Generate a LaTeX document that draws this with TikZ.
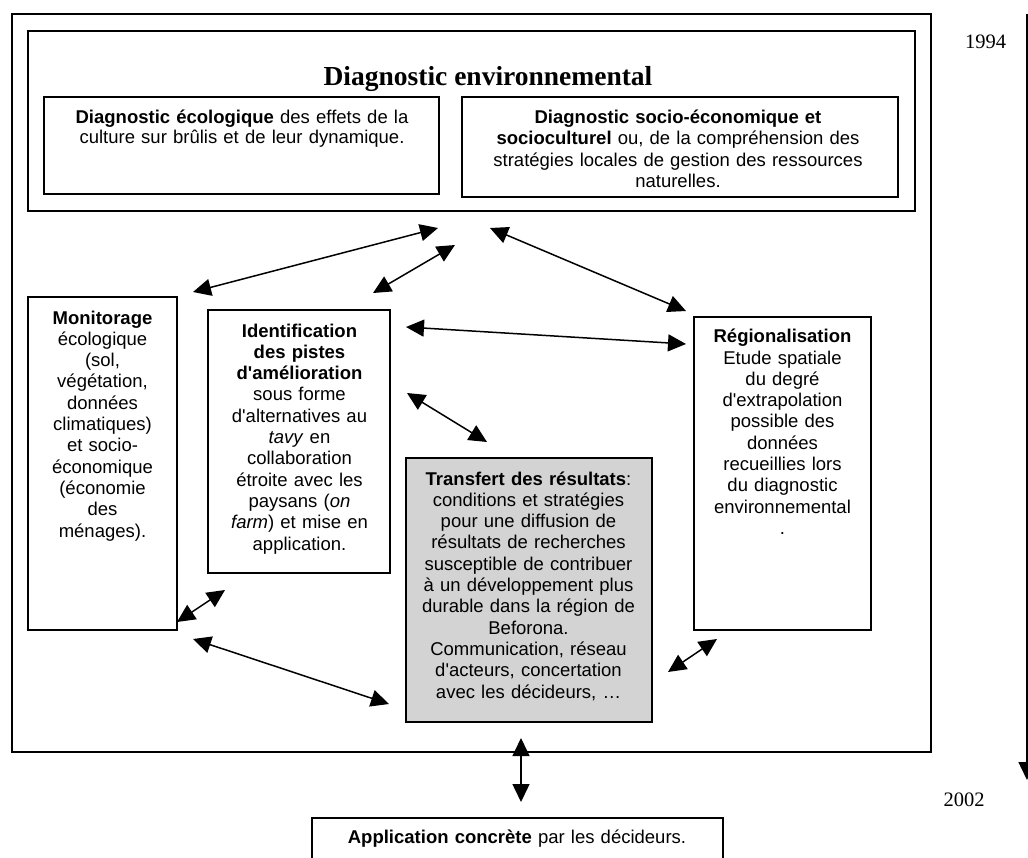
\documentclass[tikz,border=0pt]{standalone}
\usepackage{fontspec}
\setmainfont{Liberation Sans}[Ligatures=TeXOff]
\newfontfamily\yearfont{Liberation Serif}
\usetikzlibrary{arrows.meta}
\definecolor{shade}{RGB}{211,211,211}
\tikzset{
  box/.style={draw, line width=1.4pt, inner sep=0pt, anchor=center},
  txt/.style={anchor=base, align=center, text width=460pt, inner sep=0pt,
    font={\fontsize{18.5}{21.3}\selectfont}},
  link/.style={{Triangle[length=18pt,width=17pt]}-{Triangle[length=18pt,width=17pt]}, line width=1.5pt},
  timeline/.style={-{Triangle[length=18pt,width=17pt]}, line width=1.5pt},
  year/.style={anchor=base, inner sep=0pt, font={\yearfont\fontsize{20.5}{24}\selectfont}},
}
\begin{document}
\begin{tikzpicture}[x=1pt,y=-1pt]
\clip (0,0) rectangle (1028,857);
\fill[white] (0,0) rectangle (1028,857);

% frames
\node[box, minimum width=919pt, minimum height=738pt] (outer) at (471.5,383) {};
\node[box, minimum width=887pt, minimum height=180pt] (diag) at (471.5,121) {};
\node[box, minimum width=395pt, minimum height=97pt] (eco) at (241.5,145.5) {};
\node[box, minimum width=436pt, minimum height=100pt] (soc) at (680,147) {};
\node[box, minimum width=149pt, minimum height=333pt] (mon) at (102.5,463.5) {};
\node[box, minimum width=182pt, minimum height=263pt] (ident) at (299,441.5) {};
\node[box, fill=shade, minimum width=246pt, minimum height=264pt] (trans) at (529,590) {};
\node[box, minimum width=177pt, minimum height=313pt] (reg) at (782.5,473.5) {};
\node[box, minimum width=411pt, minimum height=62pt] (app) at (517.5,849) {};

% texts
\node[anchor=base, inner sep=0pt, font={\yearfont\bfseries\fontsize{27.5}{32}\selectfont}] (title) at (488,85) {Diagnostic environnemental};
\node[txt, font={\fontsize{18.5}{20}\selectfont}] (ecotxt) at (242,123.5)
  {\textbf{Diagnostic écologique} des effets de la\\culture sur brûlis et de leur dynamique.};
\node[txt] (soctxt) at (678,123.5)
  {\textbf{Diagnostic socio-économique et}\\\textbf{socioculturel} ou, de la compréhension des\\stratégies locales de gestion des ressources\\naturelles.};
\node[txt] (montxt) at (102.5,324)
  {\textbf{Monitorage}\\écologique\\(sol,\\végétation,\\données\\climatiques)\\et socio-\\économique\\(économie\\des\\ménages).};
\node[txt] (identtxt) at (299.5,337)
  {\textbf{Identification}\\\textbf{des pistes}\\\textbf{d'amélioration}\\sous forme\\d'alternatives au\\\textit{tavy} en\\collaboration\\étroite avec les\\paysans (\textit{on}\\\textit{farm}) et mise en\\application.};
\node[txt] (transtxt) at (528.5,485)
  {\textbf{Transfert des résultats}:\\conditions et stratégies\\pour une diffusion de\\résultats de recherches\\susceptible de contribuer\\à un développement plus\\durable dans la région de\\Beforona.\\Communication, réseau\\d'acteurs, concertation\\avec les décideurs, …};
\node[txt] (regtxt) at (782.5,342.7)
  {\textbf{Régionalisation}\\Etude spatiale\\du degré\\d'extrapolation\\possible des\\données\\recueillies lors\\du diagnostic\\environnemental\\.};
\node[txt] (apptxt) at (517,843)
  {\textbf{Application concrète} par les décideurs.};

% time axis
\node[year] (y1994) at (985.5,48.3) {1994};
\node[year] (y2002) at (964,806.7) {2002};
\coordinate (tstart) at (1027,14);
\coordinate (tend) at (1027,780);
\draw[timeline] (tstart) -- (tend);

% interactions between the work packages
\coordinate (a1s) at (193,292);  \coordinate (a1e) at (438,228);
\coordinate (a2s) at (373,293);  \coordinate (a2e) at (455,245);
\coordinate (a3s) at (490,228);  \coordinate (a3e) at (686,311);
\coordinate (a4s) at (406,327);  \coordinate (a4e) at (686,344);
\coordinate (a5s) at (407,393);  \coordinate (a5e) at (487,442);
\coordinate (a6s) at (177,622);  \coordinate (a6e) at (225,590);
\coordinate (a7s) at (193,639);  \coordinate (a7e) at (389,704);
\coordinate (a8s) at (668,672);  \coordinate (a8e) at (717,639);
\coordinate (a9s) at (521,738);  \coordinate (a9e) at (521,802);
\foreach \k in {1,...,9} { \draw[link] (a\k s) -- (a\k e); }
\end{tikzpicture}
\end{document}
